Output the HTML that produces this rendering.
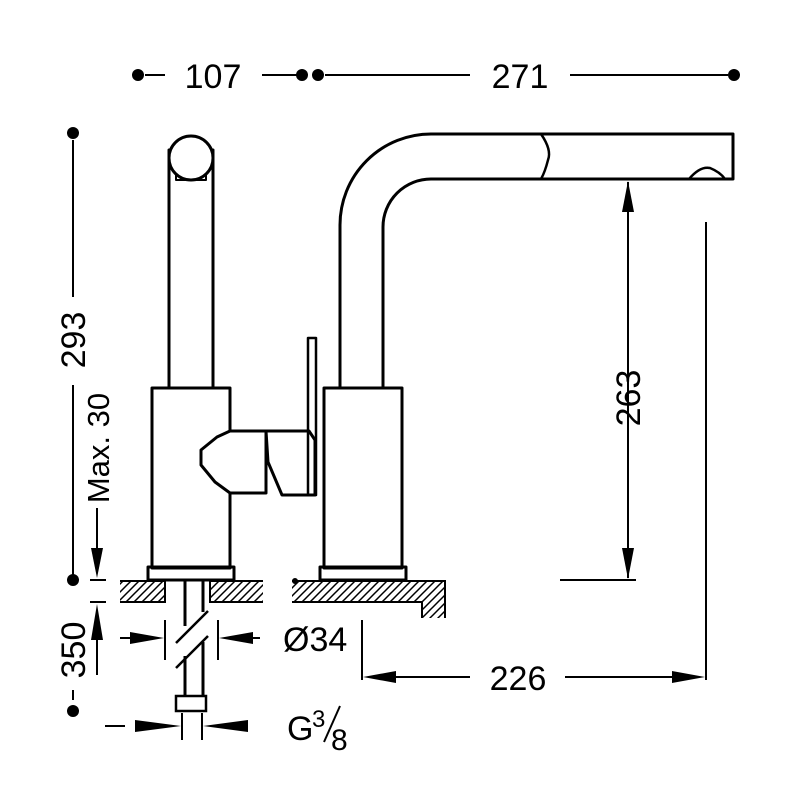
<!DOCTYPE html>
<html><head><meta charset="utf-8"><style>html,body{margin:0;padding:0;background:#fff}svg{display:block}</style></head>
<body>
<svg width="800" height="800" viewBox="0 0 800 800" xmlns="http://www.w3.org/2000/svg">
<defs>
<pattern id="h" width="8" height="8" patternUnits="userSpaceOnUse"><path d="M-2,10 L10,-2 M-2,2 L2,-2 M6,10 L10,6" stroke="#000" stroke-width="1.5"/></pattern>
</defs>
<g fill="none" stroke="#000" stroke-width="3" stroke-linejoin="round">
<rect x="169" y="150" width="44" height="238"/>
<rect x="176" y="170" width="30" height="10" stroke-width="2" fill="none"/>
<circle cx="191" cy="158" r="22" fill="#fff"/>
<rect x="152" y="388" width="78" height="180" fill="#fff"/>
<rect x="148" y="567" width="86" height="13"/>
<path d="M230,431 L266,431 L266,493 L230,493 L215,482 L201,465 L201,450 L217,437 Z" fill="#fff"/>
<path d="M266,431 L309,431 L315,440 L315,495 L282,495 L268,462 Z" fill="#fff"/>
<rect x="308" y="338" width="8" height="157" stroke-width="2.5"/>
<path d="M340,388 L340,225 A91,91 0 0 1 431,134 L733,134 L733,179 L431,179 A48,48 0 0 0 383,227 L383,388"/>
<path d="M541,134 Q552,150 548,160 Q545,172 541,179" stroke-width="2.5"/>
<path d="M689,179 Q700,166 710,168 Q720,172 725,179 Z" stroke-width="2.5"/>
<rect x="324" y="388" width="78" height="180" fill="#fff"/>
<rect x="320" y="567" width="86" height="13"/>
</g>
<g stroke="#000" stroke-width="2">
<rect x="120" y="581" width="45" height="21" fill="url(#h)" stroke="none"/>
<rect x="210" y="581" width="53" height="21" fill="url(#h)" stroke="none"/>
<path d="M292,581 H445 V618 H422 V602 H292 Z" fill="url(#h)" stroke="none"/>
<path d="M120,581 H165 V602 H120 M263,581 H210 V602 H263 M292,581 H445 V618 M422,618 V602 H292" fill="none"/>
<circle cx="295" cy="581" r="2" fill="#000"/>
</g>
<g stroke="#000" stroke-width="3" fill="none">
<path d="M185,580 V626 M203,580 V612 M185,656 V696 M203,642 V696"/>
<path d="M176,643 L208,611 M176,668 L208,636" stroke-width="2.5"/>
<rect x="176" y="696" width="30" height="15" stroke-width="2.5"/>
</g>
<g stroke="#000" stroke-width="2" fill="none">
<path d="M145,75 H165 M262,75 H300 M325,75 H470 M570,75 H728"/>
<path d="M73,140 V297 M73,385 V580 M73,690 V700"/>
<path d="M97,508 V548 M90,580 H106 M90,602 H106 M97,640 V675"/>
<path d="M628,182 V578 M560,580 H636"/>
<path d="M706,222 V680 M362,620 V680 M375,677 H470 M565,677 H694"/>
<path d="M120,638 H140 M165,620 V660 M218,620 V660 M243,638 H260"/>
<path d="M105,726 H125 M182,713 V740 M202,713 V740 M228,726 H248"/>
</g>
<g fill="#000">
<circle cx="138" cy="75" r="6"/><circle cx="302" cy="75" r="6"/><circle cx="318" cy="75" r="6"/><circle cx="734" cy="75" r="6"/>
<circle cx="73" cy="133" r="6"/><circle cx="73" cy="580" r="6"/><circle cx="73" cy="711" r="6"/>
<path d="M91,548 L103,548 L97,578 Z"/>
<path d="M91,640 L103,640 L97,604 Z"/>
<path d="M622,212 L634,212 L628,181 Z"/>
<path d="M622,548 L634,548 L628,579 Z"/>
<path d="M363,677 L396,671 L396,683 Z"/>
<path d="M705,677 L672,671 L672,683 Z"/>
<path d="M164,638 L130,632 L130,644 Z"/>
<path d="M219,638 L253,632 L253,644 Z"/>
<path d="M181,726 L135,720 L135,732 Z"/>
<path d="M203,726 L248,720 L248,732 Z"/>
</g>
<g font-family="Liberation Sans, sans-serif" font-size="34" fill="#000" text-anchor="middle">
<text x="213" y="88">107</text>
<text x="520" y="88">271</text>
<text x="518" y="690">226</text>
<text transform="translate(85,340) rotate(-90)">293</text>
<text transform="translate(109,448) rotate(-90)" font-size="31">Max. 30</text>
<text transform="translate(85,650) rotate(-90)">350</text>
<text transform="translate(640,398) rotate(-90)">263</text>
<text x="283" y="651" text-anchor="start">Ø34</text>
<text x="287" y="740" text-anchor="start">G</text>
<text x="312" y="727" text-anchor="start" font-size="24">3</text>
<path d="M324,742 L340,706" stroke="#000" stroke-width="2"/>
<text x="331" y="750" text-anchor="start" font-size="30">8</text>
</g>
</svg>
</body></html>
